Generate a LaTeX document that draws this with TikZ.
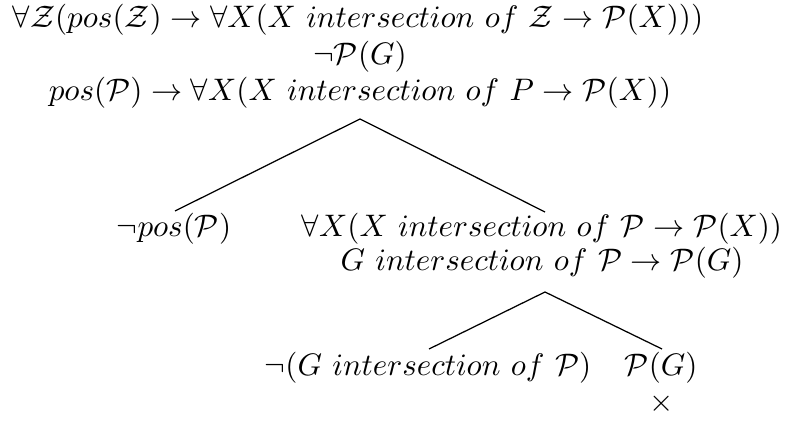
\documentclass[tikz,border=0pt]{standalone}
\usepackage{amsmath}
\begin{document}
\begin{tikzpicture}[x=0.3214pt,y=-0.3214pt,
  formula/.style={anchor=base,inner sep=0pt,outer sep=0pt},
  branch/.style={line width=0.4pt}]
\useasboundingbox (0,0) rectangle (788,423);
% root formulas
\node[formula] (r1) at (358,28) {$\forall\mathcal{Z}(pos(\mathcal{Z})\rightarrow\forall X(X\ intersection\ of\ \mathcal{Z}\rightarrow\mathcal{P}(X)))$};
\node[formula] (r2) at (360,65) {$\neg\mathcal{P}(G)$};
\node[formula] (r3) at (360,101) {$pos(\mathcal{P})\rightarrow\forall X(X\ intersection\ of\ P\rightarrow\mathcal{P}(X))$};
% first split
\coordinate (a1) at (360,119);
\coordinate (l1) at (175,211);
\coordinate (e1) at (545,212);
\draw[branch] (l1) -- (a1) -- (e1);
\node[formula] (n1) at (174,237) {$\neg pos(\mathcal{P})$};
\node[formula] (m1) at (542,237) {$\forall X(X\ intersection\ of\ \mathcal{P}\rightarrow\mathcal{P}(X))$};
\node[formula] (m2) at (542,271) {$G\ intersection\ of\ \mathcal{P}\rightarrow\mathcal{P}(G)$};
% second split
\coordinate (a2) at (545,292);
\coordinate (l2) at (429,349);
\coordinate (e2) at (662,349);
\draw[branch] (l2) -- (a2) -- (e2);
\node[formula] (b1) at (428,375) {$\neg(G\ intersection\ of\ \mathcal{P})$};
\node[formula] (b2) at (661,375) {$\mathcal{P}(G)$};
\node[formula] (x) at (662,411) {$\times$};
\end{tikzpicture}
\end{document}
